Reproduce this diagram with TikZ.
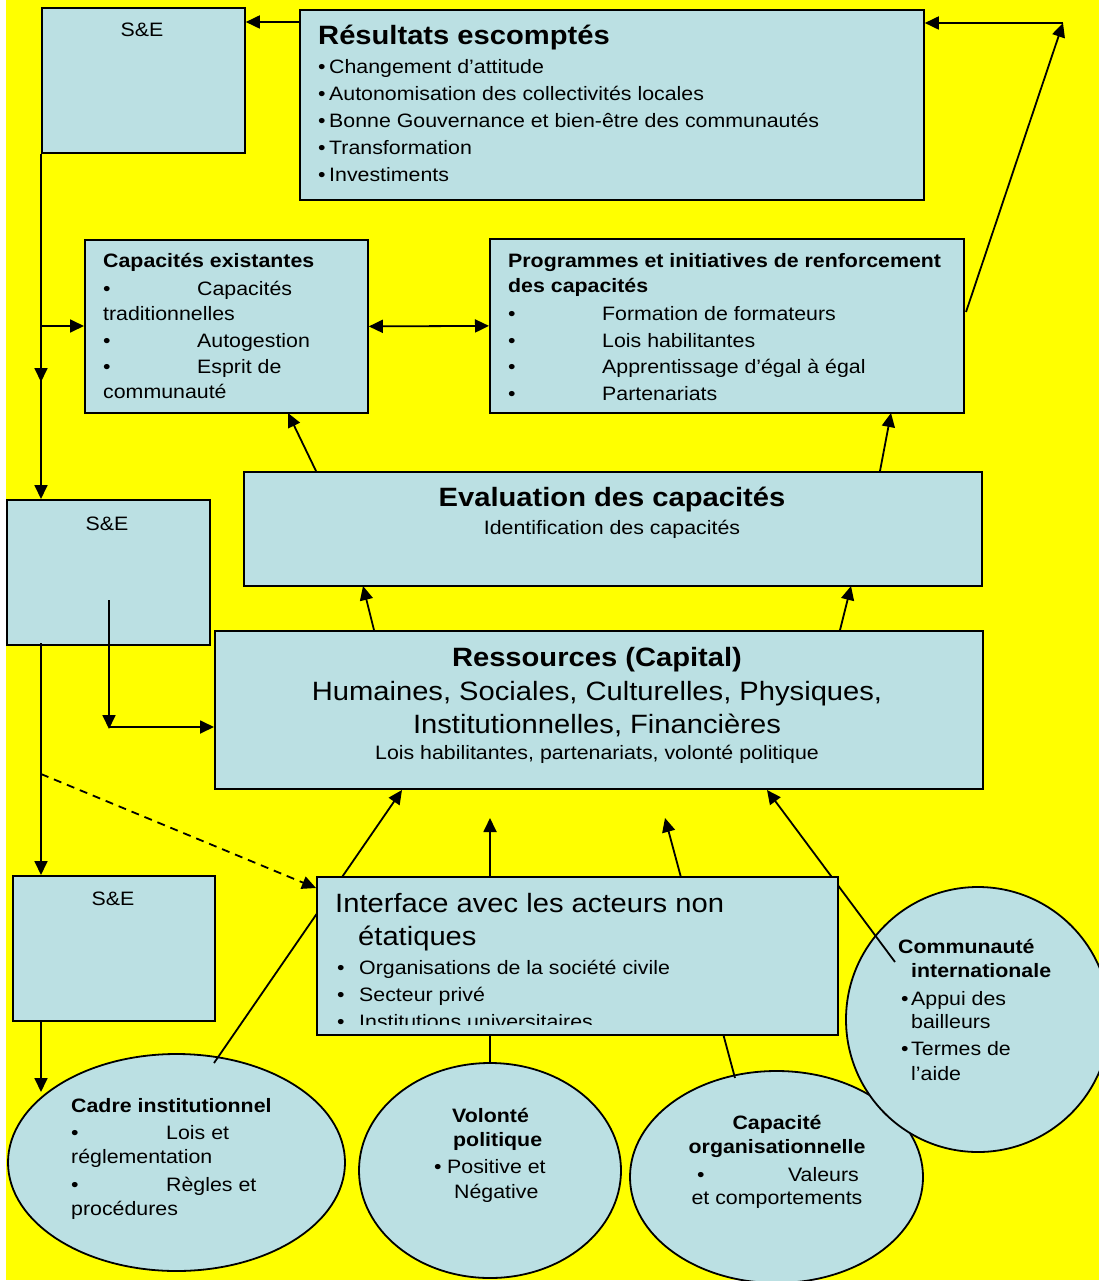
\documentclass[tikz,border=0pt]{standalone}
\usepackage{fontspec}
\setmainfont{Liberation Sans}[FakeStretch=1.1]
\usetikzlibrary{arrows.meta,shapes.geometric}
\definecolor{bgyellow}{RGB}{255,255,0}
\definecolor{boxc}{RGB}{187,224,227}
\newcounter{tlc}
\newcommand{\tl}[4][base west]{\stepcounter{tlc}\node[txt,anchor=#1] (t\thetlc) at (#2,#3) {#4};}
\begin{document}
\begin{tikzpicture}[x=1pt,y=-1pt,
  box/.style={draw=black, fill=boxc, line width=1.8pt, inner sep=0pt, anchor=north west},
  oval/.style={ellipse, draw=black, fill=boxc, line width=1.8pt, inner sep=0pt},
  ln/.style={line width=1.8pt},
  arr/.style={line width=1.8pt, -{Triangle[length=14pt,width=13pt]}},
  darr/.style={line width=1.8pt, {Triangle[length=14pt,width=13pt]}-{Triangle[length=14pt,width=13pt]}},
  txt/.style={inner sep=0pt, font=\fontsize{19.4}{23}\selectfont},
  big/.style={font=\fontsize{26.5}{30}\selectfont},
  bigb/.style={font=\fontsize{26.5}{30}\selectfont\bfseries},
  smb/.style={font=\fontsize{19.4}{23}\selectfont\bfseries}
]
\useasboundingbox (0,0) rectangle (1099,1281);
\fill[white] (0,0) rectangle (1099,1281);
\fill[bgyellow] (6,0) rectangle (1099,1280);

% boxes
\node[box, minimum width=203, minimum height=145] (se1) at (41,7) {};
\node[box, minimum width=624, minimum height=190] (res) at (299,9) {};
\node[box, minimum width=283, minimum height=173] (capex) at (84,239) {};
\node[box, minimum width=474, minimum height=174] (prog) at (489,238) {};
\node[box, minimum width=738, minimum height=114] (eval) at (243,471) {};
\node[box, minimum width=768, minimum height=158] (ress) at (214,630) {};
\node[box, minimum width=203, minimum height=145] (se2) at (6,499) {};
\node[box, minimum width=202, minimum height=145] (se3) at (12,875) {};

% S&E labels
\tl[base]{142}{37}{S\&E}
\tl[base]{107}{530}{S\&E}
\tl[base]{113}{905}{S\&E}

% Resultats
\tl{318}{45}{\fontsize{26.5}{30}\selectfont\bfseries Résultats escomptés}
\tl{318}{74}{•}\tl{329}{74}{Changement d’attitude}
\tl{318}{101}{•}\tl{329}{101}{Autonomisation des collectivités locales}
\tl{318}{128}{•}\tl{329}{128}{Bonne Gouvernance et bien-être des communautés}
\tl{318}{155}{•}\tl{329}{155}{Transformation}
\tl{318}{182}{•}\tl{329}{182}{Investiments}

% Capacites existantes
\tl{103}{267}{\bfseries Capacités existantes}
\tl{103}{295}{•}\tl{197}{295}{Capacités}
\tl{103}{320}{traditionnelles}
\tl{103}{347}{•}\tl{197}{347}{Autogestion}
\tl{103}{373}{•}\tl{197}{373}{Esprit de}
\tl{103}{398}{communauté}

% Programmes
\tl{508}{267}{\bfseries Programmes et initiatives de renforcement}
\tl{508}{292}{\bfseries des capacités}
\tl{508}{320}{•}\tl{602}{320}{Formation de formateurs}
\tl{508}{347}{•}\tl{602}{347}{Lois habilitantes}
\tl{508}{373}{•}\tl{602}{373}{Apprentissage d’égal à égal}
\tl{508}{400}{•}\tl{602}{400}{Partenariats}

% Evaluation
\tl[base]{612}{506}{\fontsize{26.5}{30}\selectfont\bfseries Evaluation des capacités}
\tl[base]{612}{534}{Identification des capacités}

% Ressources
\tl[base]{597}{666}{\fontsize{26.5}{30}\selectfont\bfseries Ressources (Capital)}
\tl[base]{597}{700}{\fontsize{26.5}{30}\selectfont Humaines, Sociales, Culturelles, Physiques,}
\tl[base]{597}{733}{\fontsize{26.5}{30}\selectfont Institutionnelles, Financières}
\tl[base]{597}{759}{Lois habilitantes, partenariats, volonté politique}

% connector coordinates
\coordinate (a1) at (299,22);
\coordinate (pe) at (966,312);
\coordinate (corner) at (1063,23);
\coordinate (lmid) at (41,382);
\coordinate (lbr) at (41,326);
\coordinate (e1s) at (316,471);
\coordinate (e1t) at (288,413);
\coordinate (e2s) at (880,471);
\coordinate (e2t) at (891,413);
\coordinate (r1s) at (374,630);
\coordinate (r1t) at (363,586);
\coordinate (r2s) at (840,630);
\coordinate (r2t) at (851,586);
\coordinate (in1) at (109,600);
\coordinate (in2) at (109,729);
\coordinate (in3) at (109,727);
\coordinate (dsh) at (41,774);
\coordinate (dtip) at (316,888);
\coordinate (l3s) at (41,1020);
\coordinate (l3t) at (41,1092);

% top connectors
\draw[arr] (a1) -- (a1 -| se1.east);
\draw[arr] (pe) -- (corner);
\draw[arr] (corner) -- (corner -| res.east);
\draw[darr] (capex.east) -- (prog.west);
\draw[arr] (e1s) -- (e1t);
\draw[arr] (e2s) -- (e2t);
\draw[arr] (r1s) -- (r1t);
\draw[arr] (r2s) -- (r2t);

% left connectors
\draw[arr] (se1.south west) -- (lmid);
\draw[arr] (41,370) -- (41,499) coordinate (se2top);
\draw[arr] (lbr) -- (lbr -| capex.west);
\draw[arr] (in1) -- (in2);
\draw[arr] (in3) -- (in3 -| ress.west);
\draw[arr] (41,643) -- (41,875) coordinate (se3top);

% ellipses
\node[oval, minimum width=337, minimum height=217] (cadre) at (176.5,1162.5) {};
\node[oval, minimum width=262, minimum height=215] (vol) at (490,1170.5) {};
\node[oval, minimum width=293, minimum height=212] (corg) at (776.5,1177) {};
\node[oval, minimum width=264, minimum height=265] (comm) at (978,1019.5) {};

% lines from ellipses to Ressources
\coordinate (c1s) at (214,1063);
\coordinate (c1t) at (402,790);
\coordinate (v1s) at (490,1063);
\coordinate (v1t) at (490,818);
\coordinate (o1s) at (735,1078);
\coordinate (o1t) at (665,818);
\coordinate (m1s) at (895,962);
\coordinate (m1t) at (767,790);
\draw[arr] (c1s) -- (c1t);
\draw[arr] (v1s) -- (v1t);
\draw[arr] (o1s) -- (o1t);
\draw[arr] (m1s) -- (m1t);

% Interface box
\node[box, minimum width=521, minimum height=158] (inter) at (316,876) {};
\begin{scope}
\clip (316,876) rectangle (837,1024);
\tl{335}{912}{\fontsize{26.5}{30}\selectfont Interface avec les acteurs non}
\tl{358}{945}{\fontsize{26.5}{30}\selectfont étatiques}
\tl{337}{974}{•}\tl{359}{974}{Organisations de la société civile}
\tl{337}{1001}{•}\tl{359}{1001}{Secteur privé}
\tl{337}{1028}{•}\tl{359}{1028}{Institutions universitaires}
\end{scope}

\draw[arr, dashed, dash pattern=on 8pt off 6pt] (dsh) -- (dtip);
\draw[arr] (se3.south west -| l3s) -- (l3t);

% Cadre text
\tl{71}{1112}{\bfseries Cadre institutionnel}
\tl{71}{1139}{•}\tl{166}{1139}{Lois et}
\tl{71}{1163}{réglementation}
\tl{71}{1191}{•}\tl{166}{1191}{Règles et}
\tl{71}{1215}{procédures}

% Volonte text
\tl{452}{1122}{\bfseries Volonté}
\tl{453}{1146}{\bfseries politique}
\tl{434}{1173}{•}\tl{447}{1173}{Positive et}
\tl{454}{1198}{Négative}

% Capacite organisationnelle text
\tl[base]{777}{1129}{\bfseries Capacité}
\tl[base]{777}{1153}{\bfseries organisationnelle}
\tl{697}{1181}{•}\tl[base east]{859}{1181}{Valeurs}
\tl[base]{777}{1204}{et comportements}

% Communaute text
\tl{898}{953}{\bfseries Communauté}
\tl{911}{977}{\bfseries internationale}
\tl{901}{1005}{•}\tl{911}{1005}{Appui des}
\tl{911}{1028}{bailleurs}
\tl{901}{1055}{•}\tl{911}{1055}{Termes de}
\tl{911}{1080}{l’aide}
\end{tikzpicture}
\end{document}
